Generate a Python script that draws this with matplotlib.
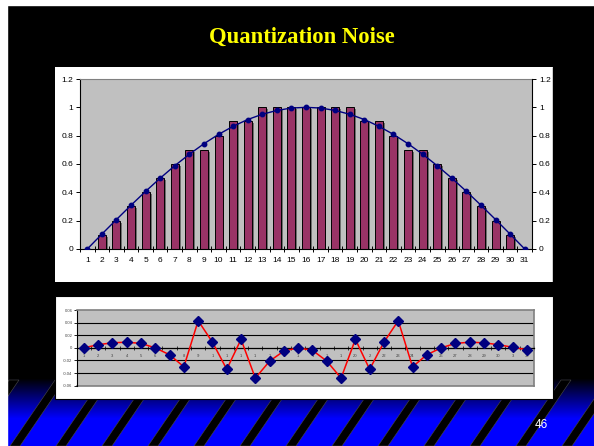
import numpy as np
import matplotlib
matplotlib.use("Agg")
import matplotlib.pyplot as plt
from matplotlib.patches import Rectangle, Polygon

# ---------------- data ----------------
x_labels_top = [str(i) for i in range(1, 32)]
sine_values = [0.0, 0.105, 0.208, 0.309, 0.407, 0.5, 0.588, 0.669, 0.743, 0.809,
               0.866, 0.914, 0.951, 0.978, 0.995, 1.0, 0.995, 0.978, 0.951, 0.914,
               0.866, 0.809, 0.743, 0.669, 0.588, 0.5, 0.407, 0.309, 0.208, 0.105, 0.0]
quantized_values = [0.0, 0.1, 0.2, 0.3, 0.4, 0.5, 0.6, 0.7, 0.7, 0.8,
                    0.9, 0.9, 1.0, 1.0, 1.0, 1.0, 1.0, 1.0, 1.0, 0.9,
                    0.9, 0.8, 0.7, 0.7, 0.6, 0.5, 0.4, 0.3, 0.2, 0.1, 0.0]
top_yticks = [0, 0.2, 0.4, 0.6, 0.8, 1.0, 1.2]
top_ytick_labels = ["0", "0.2", "0.4", "0.6", "0.8", "1", "1.2"]

noise_values = [0.0, 0.005, 0.008, 0.009, 0.007, 0.0, -0.011, -0.030, 0.043, 0.009,
                -0.034, 0.0135, -0.048, -0.021, -0.005, 0.0, -0.004, -0.021, -0.048, 0.0135,
                -0.034, 0.009, 0.043, -0.030, -0.011, 0.0, 0.007, 0.009, 0.008, 0.005,
                0.001, -0.003]
x_labels_bottom = ["1", "2", "3", "4", "5", "6", "7", "8", "9", "1",
                   "1", "1", "1", "1", "1", "1", "1", "1", "1", "20",
                   "2", "22", "23", "24", "2", "26", "27", "28", "29", "30",
                   "3", "32"]
bottom_yticks = [-0.06, -0.04, -0.02, 0, 0.02, 0.04, 0.06]
bottom_ytick_labels = ["-0.06", "-0.04", "-0.02", "0", "0.02", "0.04", "0.06"]
bottom_grid = [-0.04, -0.02, 0.02, 0.04]

title = "Quantization Noise"
page_number = "46"

# ---------------- figure ----------------
W, H = 594, 446
fig = plt.figure(figsize=(W / 100, H / 100), dpi=100)
fig.patch.set_facecolor("black")


def rect(x0, y0, x1, y1):
    return [x0 / W, 1 - y1 / H, (x1 - x0) / W, (y1 - y0) / H]


# background slide
bg = fig.add_axes([0, 0, 1, 1], zorder=-5)
bg.set_xlim(0, W)
bg.set_ylim(H, 0)
bg.axis("off")
bg.set_autoscale_on(False)
bg.add_patch(Rectangle((0, 0), W, H, color="white", zorder=0))
bg.add_patch(Rectangle((7, 5), W - 7, H - 5, color="black", zorder=1))

g0, g1 = 378, 446
n = g1 - g0
t = np.clip(np.arange(n) / 40.0, 0, 1)
grad = np.zeros((n, 1, 3))
grad[:, 0, 2] = t
bg.imshow(grad, extent=(7, W, g1, g0), aspect="auto", zorder=2, interpolation="bilinear")
bg.set_xlim(0, W)
bg.set_ylim(H, 0)

for k in range(-1, 13):
    xb = 10 + 46 * k
    bg.add_patch(Polygon([(xb, 446), (xb + 10, 446), (xb + 55, 380), (xb + 45, 380)],
                         closed=True, facecolor="black", edgecolor="#4a4a4a",
                         lw=0.4, zorder=3))

bg.add_patch(Rectangle((0, 0), 7, H, color="white", zorder=4))
bg.add_patch(Rectangle((0, 0), W, 5, color="white", zorder=4))

# chart panels
bg.add_patch(Rectangle((55, 67), 498, 215, facecolor="white", edgecolor="none", zorder=5))
bg.add_patch(Rectangle((55, 296), 498, 103, facecolor="white", edgecolor="black", lw=0.8, zorder=5))

bg.text(302, 37, title, color="#FFFF00", family="Liberation Serif", fontweight="bold",
        fontsize=16.3, ha="center", va="center", zorder=6)
bg.text(541, 424.5, page_number, color="white", family="Liberation Sans",
        fontsize=8.5, ha="center", va="center", zorder=6)

# ---------------- top chart ----------------
ax = fig.add_axes(rect(80, 79, 532, 249))
ax.set_facecolor("#C0C0C0")
xt = np.arange(1, len(quantized_values) + 1)
qv = np.array(quantized_values)
ax.bar(xt + 0.13, np.clip(qv - 0.014, 0, None), width=0.55, color="#6e6e6e", zorder=1)
ax.bar(xt, qv, width=0.55, color="#993366", edgecolor="black", lw=0.7, zorder=2)
ax.plot(xt, sine_values, color="#000080", lw=1.0, marker="o", ms=3.2, zorder=3)
ax.set_xlim(0.5, len(quantized_values) + 0.5)
ax.set_ylim(0, 1.2)
ax.set_yticks(top_yticks)
ax.set_yticklabels(top_ytick_labels)
ax.set_xticks(xt)
ax.set_xticklabels(x_labels_top)
ax.set_xticks(np.arange(0.5, len(quantized_values) + 1, 1), minor=True)
ax.tick_params(axis="x", which="major", length=0, pad=6, labelsize=6)
ax.tick_params(axis="x", which="minor", direction="inout", length=5, width=0.7)
ax.tick_params(axis="y", direction="out", length=3, width=0.7, pad=2, labelsize=6)
for s in ["left", "bottom"]:
    ax.spines[s].set_color("black")
    ax.spines[s].set_linewidth(0.8)
ax.spines["top"].set_color("#808080")
ax.spines["top"].set_linewidth(0.8)
ax.spines["right"].set_visible(False)
for lbl in ax.get_xticklabels() + ax.get_yticklabels():
    lbl.set_family("Liberation Sans")

ax2 = ax.twinx()
ax2.set_ylim(0, 1.2)
ax2.set_yticks(top_yticks)
ax2.set_yticklabels(top_ytick_labels)
ax2.tick_params(axis="y", direction="out", length=3, width=0.7, pad=2, labelsize=6)
for s in ["left", "top", "bottom"]:
    ax2.spines[s].set_visible(False)
ax2.spines["right"].set_color("black")
ax2.spines["right"].set_linewidth(0.8)
for lbl in ax2.get_yticklabels():
    lbl.set_family("Liberation Sans")

# cover right labels beyond panel edge
fig.add_artist(Rectangle((553 / W, 1 - 282 / H), (W - 553) / W, (282 - 67) / H,
                         transform=fig.transFigure, color="black", zorder=5))

# ---------------- bottom chart ----------------
bx = fig.add_axes(rect(76.7, 310, 534, 385.7))
bx.set_facecolor("#C0C0C0")
xn = np.arange(1, len(noise_values) + 1)
for v in bottom_grid:
    bx.axhline(v, color="black", lw=0.8, zorder=1)
bx.axhline(-0.06, color="#808080", lw=1.2, zorder=1, clip_on=False)
bx.plot(xn, noise_values, color="red", lw=1.1, marker="D", ms=5, mfc="#000080",
        mec="#000080", zorder=3)
bx.set_xlim(0.5, len(noise_values) + 0.5)
bx.set_ylim(-0.06, 0.06)
bx.set_yticks(bottom_yticks)
bx.set_yticklabels(bottom_ytick_labels)
bx.set_xticks(xn)
bx.set_xticklabels(x_labels_bottom)
bx.set_xticks(np.arange(0.5, len(noise_values) + 1, 1), minor=True)
bx.spines["bottom"].set_position(("data", 0))
bx.spines["bottom"].set_color("black")
bx.spines["bottom"].set_linewidth(0.9)
bx.spines["left"].set_color("black")
bx.spines["left"].set_linewidth(0.8)
bx.spines["top"].set_color("#808080")
bx.spines["right"].set_color("#808080")
bx.spines["top"].set_linewidth(1.2)
bx.spines["right"].set_linewidth(1.2)
bx.tick_params(axis="x", which="major", length=0, pad=4.5, labelsize=3, labelcolor="#404040")
bx.tick_params(axis="x", which="minor", direction="inout", length=2.5, width=0.5)
bx.tick_params(axis="y", direction="out", length=2, width=0.6, pad=1, labelsize=3,
               labelcolor="#404040")
for lbl in bx.get_xticklabels() + bx.get_yticklabels():
    lbl.set_family("Liberation Sans")

fig.savefig("out.png", dpi=100, facecolor=fig.get_facecolor())
